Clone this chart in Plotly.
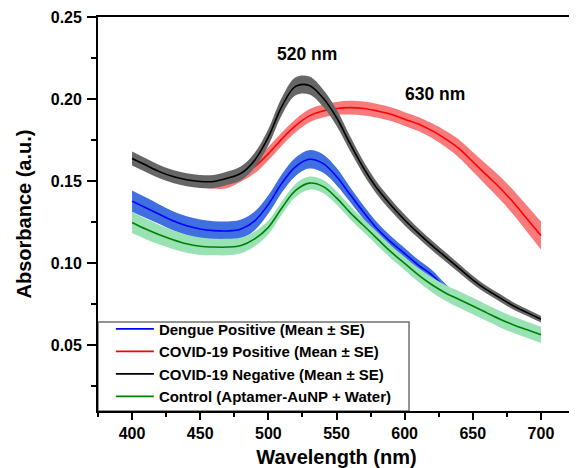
import plotly.graph_objects as go

wavelength = [400, 410, 420, 430, 440, 450, 460, 470, 480, 490, 500, 510, 520, 530, 540, 550,
              560, 570, 580, 590, 600, 610, 620, 630, 640, 650, 660, 670, 680, 690, 700]

dengue_mean = [0.138, 0.134, 0.130, 0.126, 0.123, 0.121, 0.120, 0.1198, 0.121, 0.126, 0.136, 0.149,
               0.159, 0.1635, 0.161, 0.153, 0.142, 0.131, 0.121, 0.113, 0.106, 0.099, 0.093, 0.085,
               0.079, 0.075, 0.070, 0.066, 0.0625, 0.0595, 0.0565]
dengue_se = [0.0065, 0.0063, 0.006, 0.0058, 0.0058, 0.0058, 0.0058, 0.0058, 0.0058, 0.0057, 0.0056,
             0.0056, 0.0056, 0.0056, 0.0056, 0.0053, 0.0045, 0.004, 0.0038, 0.0036, 0.0034, 0.0032,
             0.003, 0.0025, 0.002, 0.002, 0.002, 0.002, 0.002, 0.002, 0.002]

covid_pos_mean = [0.1635, 0.1595, 0.1555, 0.1525, 0.1505, 0.1495, 0.149, 0.150, 0.154, 0.159, 0.167,
                  0.176, 0.184, 0.190, 0.193, 0.1945, 0.195, 0.1945, 0.193, 0.191, 0.188, 0.185,
                  0.181, 0.176, 0.170, 0.162, 0.154, 0.146, 0.137, 0.127, 0.117]
covid_pos_se = [0.003, 0.003, 0.003, 0.003, 0.003, 0.003, 0.0035, 0.004, 0.004, 0.004, 0.004, 0.004,
                0.004, 0.004, 0.004, 0.004, 0.0042, 0.0042, 0.0042, 0.0042, 0.0042, 0.0043, 0.0045,
                0.005, 0.0055, 0.006, 0.0065, 0.007, 0.0075, 0.008, 0.0085]

covid_neg_mean = [0.164, 0.160, 0.156, 0.153, 0.151, 0.150, 0.150, 0.152, 0.155, 0.163, 0.177, 0.196,
                  0.208, 0.2085, 0.201, 0.189, 0.173, 0.158, 0.1455, 0.1355, 0.1265, 0.1185, 0.111,
                  0.104, 0.097, 0.090, 0.084, 0.079, 0.074, 0.070, 0.066]
covid_neg_se = [0.0043, 0.0042, 0.0041, 0.004, 0.004, 0.004, 0.004, 0.004, 0.0042, 0.0045, 0.005,
                0.0053, 0.0055, 0.0055, 0.0053, 0.005, 0.0045, 0.004, 0.0037, 0.0035, 0.0033, 0.003,
                0.003, 0.0028, 0.0027, 0.0025, 0.0024, 0.0023, 0.0022, 0.0021, 0.002]

control_mean = [0.125, 0.121, 0.1175, 0.1145, 0.112, 0.1105, 0.110, 0.110, 0.111, 0.115, 0.122, 0.134,
                0.1445, 0.149, 0.147, 0.140, 0.131, 0.123, 0.115, 0.107, 0.100, 0.093, 0.087, 0.082,
                0.078, 0.074, 0.070, 0.066, 0.0625, 0.0595, 0.0565]
control_se = [0.0065, 0.0062, 0.006, 0.0057, 0.0055, 0.0053, 0.005, 0.005, 0.0048, 0.0045, 0.0042,
              0.004, 0.004, 0.004, 0.004, 0.004, 0.004, 0.004, 0.004, 0.004, 0.004, 0.0042, 0.0045,
              0.0047, 0.005, 0.005, 0.005, 0.005, 0.005, 0.005, 0.005]

series_names = ["Dengue Positive (Mean ± SE)", "COVID-19 Positive (Mean ± SE)",
                "COVID-19 Negative (Mean ± SE)", "Control (Aptamer-AuNP + Water)"]
series_means = [dengue_mean, covid_pos_mean, covid_neg_mean, control_mean]
series_ses = [dengue_se, covid_pos_se, covid_neg_se, control_se]
line_colors = ["#0000ff", "#ff0000", "#000000", "#008000"]
band_colors = ["#3f6fe0", "#f97a7a", "#666666", "#98e2b4"]

annot_texts = ["520 nm", "630 nm"]
annot_x = [528.5, 622]
annot_y = [0.2275, 0.2036]

FONT = "Liberation Sans, Arial, sans-serif"

fig = go.Figure()
for name, mean, se, lc, bc in zip(series_names, series_means, series_ses, line_colors, band_colors):
    lower = [m - s for m, s in zip(mean, se)]
    upper = [m + s for m, s in zip(mean, se)]
    fig.add_trace(go.Scatter(x=wavelength, y=lower, mode="lines", line=dict(width=0, shape="spline"),
                             showlegend=False, hoverinfo="skip"))
    fig.add_trace(go.Scatter(x=wavelength, y=upper, mode="lines", line=dict(width=0, shape="spline"),
                             fill="tonexty", fillcolor=bc, showlegend=False, hoverinfo="skip"))
    fig.add_trace(go.Scatter(x=wavelength, y=mean, mode="lines", name=name,
                             line=dict(color=lc, width=1.6, shape="spline")))

for t, ax, ay in zip(annot_texts, annot_x, annot_y):
    fig.add_annotation(x=ax, y=ay, xref="x", yref="y", text=t, showarrow=False,
                       font=dict(family=FONT, size=17.5, color="black", weight="bold"))

# legend frame
fig.add_shape(type="rect", xref="paper", yref="paper", x0=0, x1=0.652, y0=0, y1=0.226,
              line=dict(color="#707070", width=1.5), fillcolor="white", layer="below")

axis_common = dict(showgrid=False, zeroline=False, showline=True, linecolor="black", linewidth=1.8,
                   mirror=True, ticks="outside", tickwidth=1.5, tickcolor="black",
                   automargin=False,
                   tickfont=dict(family=FONT, size=16, color="black", weight="bold"))

fig.update_xaxes(range=[375, 725], tick0=0, dtick=50, ticklen=7,
                 minor=dict(ticks="outside", ticklen=4, tickwidth=1.5, tickcolor="black", dtick=25, tick0=0),
                 title=dict(text="Wavelength (nm)", standoff=12,
                            font=dict(family=FONT, size=20, color="black", weight="bold")),
                 **axis_common)
fig.update_yaxes(range=[0.01, 0.2503], tick0=0, dtick=0.05, tickformat=".2f", ticklen=9,
                 ticklabelstandoff=2,
                 minor=dict(ticks="outside", ticklen=5, tickwidth=1.5, tickcolor="black", dtick=0.025, tick0=0),
                 title=dict(text="Absorbance (a.u.)", standoff=14,
                            font=dict(family=FONT, size=20, color="black", weight="bold")),
                 **axis_common)

# the page body adds an 8px offset, so the figure is sized/margined to compensate
fig.update_layout(
    width=569, height=460,
    margin=dict(l=90, r=2, t=9, b=57, autoexpand=False),
    paper_bgcolor="white", plot_bgcolor="white",
    font=dict(family=FONT, color="black"),
    showlegend=True,
    legend=dict(x=0.027, y=-0.004, xanchor="left", yanchor="bottom", bgcolor="rgba(0,0,0,0)",
                borderwidth=0, traceorder="normal",
                font=dict(family=FONT, size=15, color="black", weight="bold"),
                tracegroupgap=0, itemwidth=38),
)

fig.write_html("out.html")
